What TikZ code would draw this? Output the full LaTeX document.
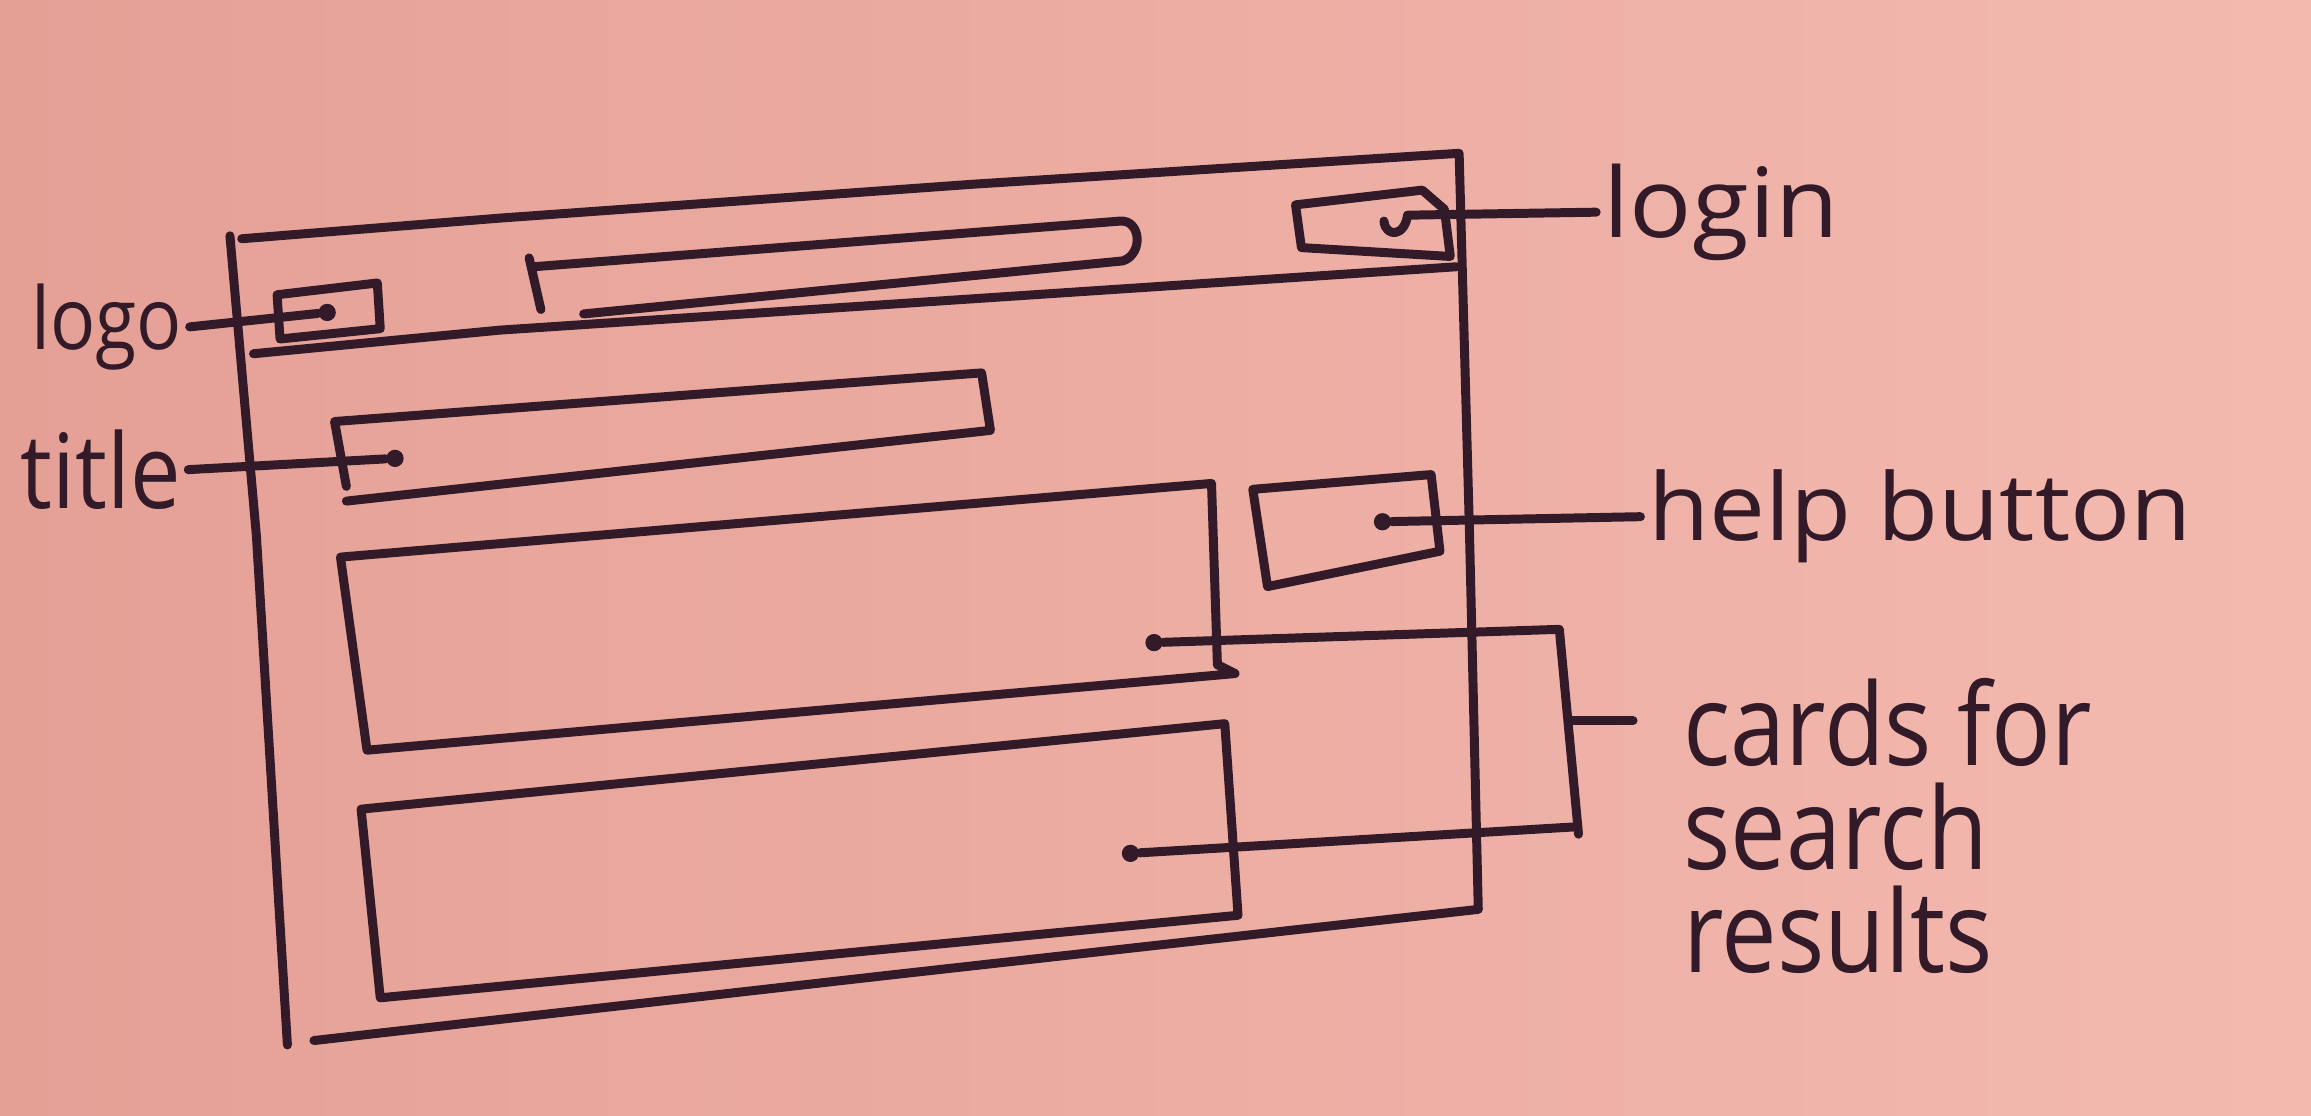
\documentclass[tikz,border=0pt]{standalone}
\usepackage{fontspec}
\newfontfamily\handn[FakeStretch=0.87]{Open Sans}
\newfontfamily\handw[FakeStretch=1.07]{Open Sans}
\definecolor{inkc}{RGB}{50,26,40}
\definecolor{paperl}{RGB}{229,160,150}
\definecolor{paperr}{RGB}{243,185,175}

\begin{document}
\begin{tikzpicture}[x=0.015cm,y=-0.015cm,
	ink/.style={draw=inkc,line width=2.6pt,line cap=round,line join=round},
	lbl/.style={text=inkc,inner sep=2pt,anchor=base west},
	inkdot/.style={circle,fill=inkc,inner sep=0pt,minimum size=5pt}]

	% paper
	\shade [left color=paperl,right color=paperr] (0,0) rectangle (1568,757);
	\useasboundingbox (0,0) rectangle (1568,757);

	% browser window
	\draw [ink] (156,160) -- (174,364) -- (195,709);
	\draw [ink] (164,162) -- (339,148) -- (660,125) -- (990,104) -- (997,360) -- (1003,617) -- (600,662) -- (213,706);
	\draw [ink] (172,240) -- (339,224) -- (988,181);

	% header: logo, search bar, login
	\draw [ink] (188,200) -- (256,192) -- (258,223) -- (190,230) -- cycle;
	\draw [ink] (359,175) -- (367,210);
	\draw [ink] (362,181) -- (760,150) .. controls (774,149) and (776,172) .. (762,177) -- (396,213);
	\draw [ink] (879,139) -- (965,129) -- (980,142) -- (984,174) -- (883,168) -- cycle;

	% body: title, help button, two cards
	\draw [ink] (235,330) -- (227,286) -- (666,253) -- (672,292) -- (235,340);
	\draw [ink] (850,332) -- (971,322) -- (977,374) -- (860,398) -- cycle;
	\draw [ink] (231,378) -- (822,328) -- (826,451) -- (838,457) -- (249,509) -- cycle;
	\draw [ink] (245,549) -- (831,491) -- (840,621) -- (258,677) -- cycle;

	% pins
	\node [name=p-logo,inkdot] at (222,212) {};
	\node [name=p-title,inkdot] at (268,311) {};
	\node [name=p-help,inkdot] at (938,354) {};
	\node [name=p-card1,inkdot] at (783,436) {};
	\node [name=p-card2,inkdot] at (767,579) {};
	\coordinate (p-login) at (955,146);

	\coordinate (brk-top) at (1058,427);
	\coordinate (brk-bot) at (1071,566);
	\coordinate (brk-low) at (1069,561);
	\coordinate (brk-mid) at (1066,489);
	\coordinate (brk-tip) at (1108,489);

	% labels
	\node [name=t-logo,lbl,font=\handn\fontsize{25}{30}\selectfont] at (16,237) {logo};
	\node [name=t-title,lbl,font=\handn\fontsize{30}{34}\selectfont] at (9,345) {title};
	\node [name=t-login,lbl,font=\handw\fontsize{28}{32}\selectfont] at (1083,161) {login};
	\node [name=t-help,lbl,font=\handw\fontsize{27}{32}\selectfont] at (1113,367) {help button};
	\node [name=t-cards,lbl,anchor=north west,align=left,font=\handn\fontsize{33}{30}\selectfont] at (1137,455) {cards for\\search\\results};

	% connectors
	\draw [ink] (t-logo.east) -- (p-logo);
	\draw [ink] (t-title.east) -- (p-title);
	\draw [ink] (939,150) .. controls (940,161) and (953,161) .. (p-login);
	\draw [ink] (p-login) -- (t-login.west);
	\draw [ink] (p-help) -- (t-help.west);
	\draw [ink] (p-card1) -- (brk-top) -- (brk-bot);
	\draw [ink] (p-card2) -- (brk-low);
	\draw [ink] (brk-mid) -- (brk-tip);

\end{tikzpicture}
\end{document}
